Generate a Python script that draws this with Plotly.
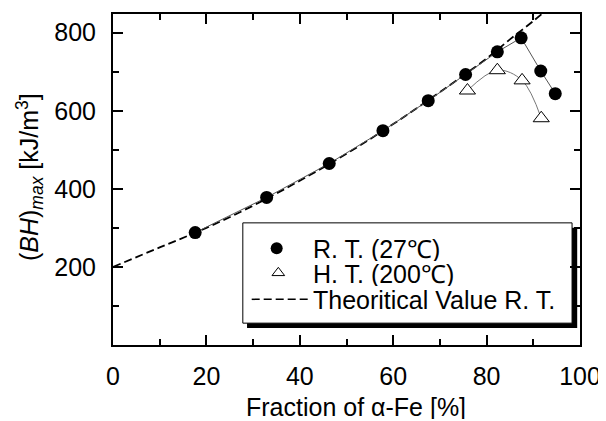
import plotly.graph_objects as go

# R.T. (27 C) measured values
rt_fraction = [17.6, 32.9, 46.3, 57.8, 67.5, 75.5, 82.3, 87.4, 91.6, 94.7]
rt_bhmax = [288, 378, 465, 549, 626, 693, 751, 787, 702, 644]

# H.T. (200 C) measured values
ht_fraction = [75.9, 82.3, 87.6, 91.7]
ht_bhmax = [652, 704, 678, 581]

# theoretical curve, R.T.
theo_fraction = [0, 10, 20, 30, 40, 50, 60, 70, 80, 85, 90, 95]
theo_bhmax = [200, 250, 300, 357, 421, 490, 566, 648, 734, 783, 830, 880]

legend_labels = ["R. T. (27℃)", "H. T. (200℃)", "Theoritical Value R. T."]

FONT = "Liberation Sans, Arial, sans-serif"
FS = 25

fig = go.Figure()

fig.add_trace(go.Scatter(
    x=theo_fraction, y=theo_bhmax, mode="lines", line_shape="spline",
    line=dict(color="black", width=1.8, dash="8px,4px"),
    showlegend=False,
))
fig.add_trace(go.Scatter(
    x=rt_fraction, y=rt_bhmax, mode="lines+markers",
    line=dict(color="#555555", width=1),
    marker=dict(symbol="circle", size=13, color="black"),
    showlegend=False,
))
fig.add_trace(go.Scatter(
    x=ht_fraction, y=ht_bhmax, mode="lines+markers", line_shape="spline",
    line=dict(color="#777777", width=1),
    marker=dict(symbol="triangle-up", size=14, color="white",
                line=dict(color="black", width=1)),
    showlegend=False,
))

# --- hand-built legend box (with drop shadow), positions in plot-area fractions ---
fig.add_shape(type="rect", xref="paper", yref="paper",
              x0=0.287, x1=0.994, y0=0.051, y1=0.354,
              fillcolor="black", line=dict(width=0), layer="below")
fig.add_shape(type="rect", xref="paper", yref="paper",
              x0=0.278, x1=0.983, y0=0.066, y1=0.369,
              fillcolor="white", line=dict(color="black", width=1), layer="below")
fig.add_shape(type="line", xref="paper", yref="paper",
              x0=0.297, x1=0.418, y0=0.138, y1=0.138,
              line=dict(color="black", width=1.5, dash="8px,4px"))

# legend symbols on an overlay axis spanning [0, 1]
fig.add_trace(go.Scatter(
    x=[0.3505], y=[0.292], mode="markers", xaxis="x2", yaxis="y2",
    marker=dict(symbol="circle", size=12, color="black"), showlegend=False,
))
fig.add_trace(go.Scatter(
    x=[0.354], y=[0.218], mode="markers", xaxis="x2", yaxis="y2",
    marker=dict(symbol="triangle-up", size=11, color="white",
                line=dict(color="black", width=1)), showlegend=False,
))

for label, ypos in zip(legend_labels, [0.290, 0.215, 0.136]):
    fig.add_annotation(text=label, xref="paper", yref="paper",
                       x=0.424, y=ypos, xanchor="left", yanchor="middle",
                       height=24, showarrow=False, font=dict(size=FS))

# axis titles
fig.add_annotation(text="Fraction of α-Fe [%]", xref="paper", yref="paper",
                   x=0.52, y=-0.186, xanchor="center", yanchor="middle",
                   height=24, showarrow=False, font=dict(size=FS))
fig.add_annotation(text="(<i>BH</i>)<sub><i>max</i></sub> [kJ/m<sup>3</sup>]",
                   xref="paper", yref="paper", textangle=-90,
                   x=-0.178, y=0.507, xanchor="center", yanchor="middle",
                   showarrow=False, font=dict(size=FS))

axis_style = dict(
    showgrid=False, zeroline=False,
    showline=True, linewidth=2, linecolor="black", mirror="allticks",
    ticks="inside", ticklen=10, tickwidth=1.5, tickcolor="black",
)

# page body has an 8px margin, so the figure is a bit smaller than the window
fig.update_layout(
    width=598, height=413,
    margin=dict(l=105, r=26, t=4, b=76),
    paper_bgcolor="white", plot_bgcolor="white",
    font=dict(family=FONT, size=FS, color="black"),
    showlegend=False,
    xaxis=dict(
        range=[0, 100], tickvals=[0, 20, 40, 60, 80, 100],
        ticklabelstandoff=8,
        minor=dict(dtick=10, ticks="inside", ticklen=6, tickwidth=1.5, tickcolor="black"),
        **axis_style,
    ),
    yaxis=dict(
        range=[0, 848], tickvals=[200, 400, 600, 800],
        ticklabelstandoff=10,
        minor=dict(dtick=100, ticks="inside", ticklen=6, tickwidth=1.5, tickcolor="black"),
        **axis_style,
    ),
    xaxis2=dict(overlaying="x", range=[0, 1], visible=False),
    yaxis2=dict(overlaying="y", range=[0, 1], visible=False),
)

fig.write_html("out.html")
